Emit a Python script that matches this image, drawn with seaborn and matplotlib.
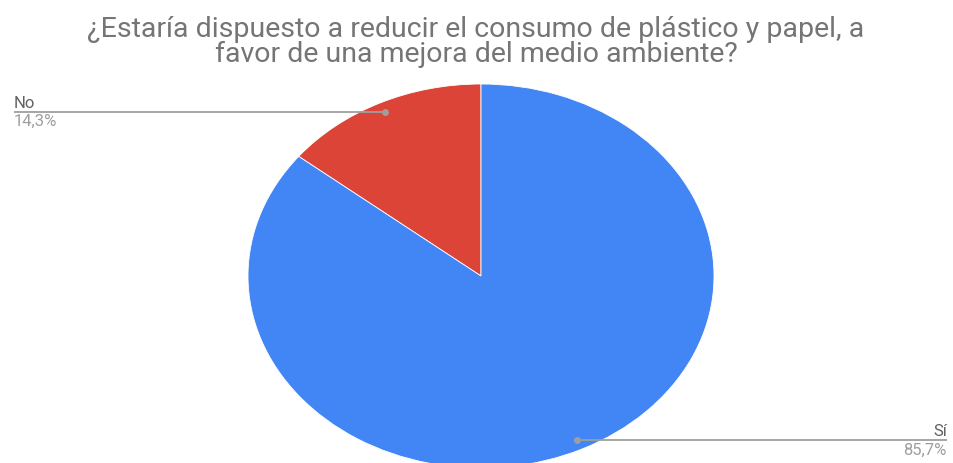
import numpy as np
import matplotlib
matplotlib.use("Agg")
import matplotlib.pyplot as plt
import seaborn as sns

# data
labels = ["No", "Sí"]
values = [14.3, 85.7]
pct_text = ["14,3%", "85,7%"]
colors = ["#DB4437", "#4285F4"]
title_lines = ["¿Estaría dispuesto a reducir el consumo de plástico y papel, a",
               "favor de una mejora del medio ambiente?"]

sns.set_theme(style="white")
plt.rcParams['font.family'] = ['Roboto', 'DejaVu Sans']

W, H = 954, 464
fig = plt.figure(figsize=(W / 100, H / 100), dpi=100)
ax = fig.add_axes([0, 0, 1, 1])

# pie centre / radii in pixels (the chart is squashed into an ellipse)
cx, cy, rx, ry = 481, 277, 233, 192

wedges, _ = ax.pie(values, colors=colors, startangle=90, counterclock=True,
                   wedgeprops=dict(linewidth=0.6, edgecolor="white"))
ax.set_aspect('auto')
ax.set_xlim(-cx / rx, (W - cx) / rx)
ax.set_ylim((cy - H) / ry, cy / ry)

x0, x1 = ax.get_xlim()
for w, lab, pct in zip(wedges, labels, pct_text):
    mid = np.deg2rad((w.theta1 + w.theta2) / 2)
    px, py = 0.95 * np.cos(mid), 0.95 * np.sin(mid)
    if px < 0:
        xe, ha = 14 / W, "left"
    else:
        xe, ha = 947 / W, "right"
    xe_data = x0 + xe * (x1 - x0)
    ax.plot([px, xe_data], [py, py], color="#9e9e9e", lw=1.3, solid_capstyle="butt")
    ax.plot([px], [py], marker="o", ms=4, color="#9e9e9e")
    ax.annotate(lab, (xe_data, py), xytext=(0, 1.5), textcoords="offset points",
                ha=ha, va="bottom", fontsize=12, color="#616161")
    ax.annotate(pct, (xe_data, py), xytext=(0, -1), textcoords="offset points",
                ha=ha, va="top", fontsize=12, color="#9e9e9e")

for i, line in enumerate(title_lines):
    fig.text(476 / W, 1 - (37 + 25 * i) / H, line, ha="center", va="baseline",
             fontsize=20.5, color="#757575")

fig.savefig("out.png", dpi=100)
